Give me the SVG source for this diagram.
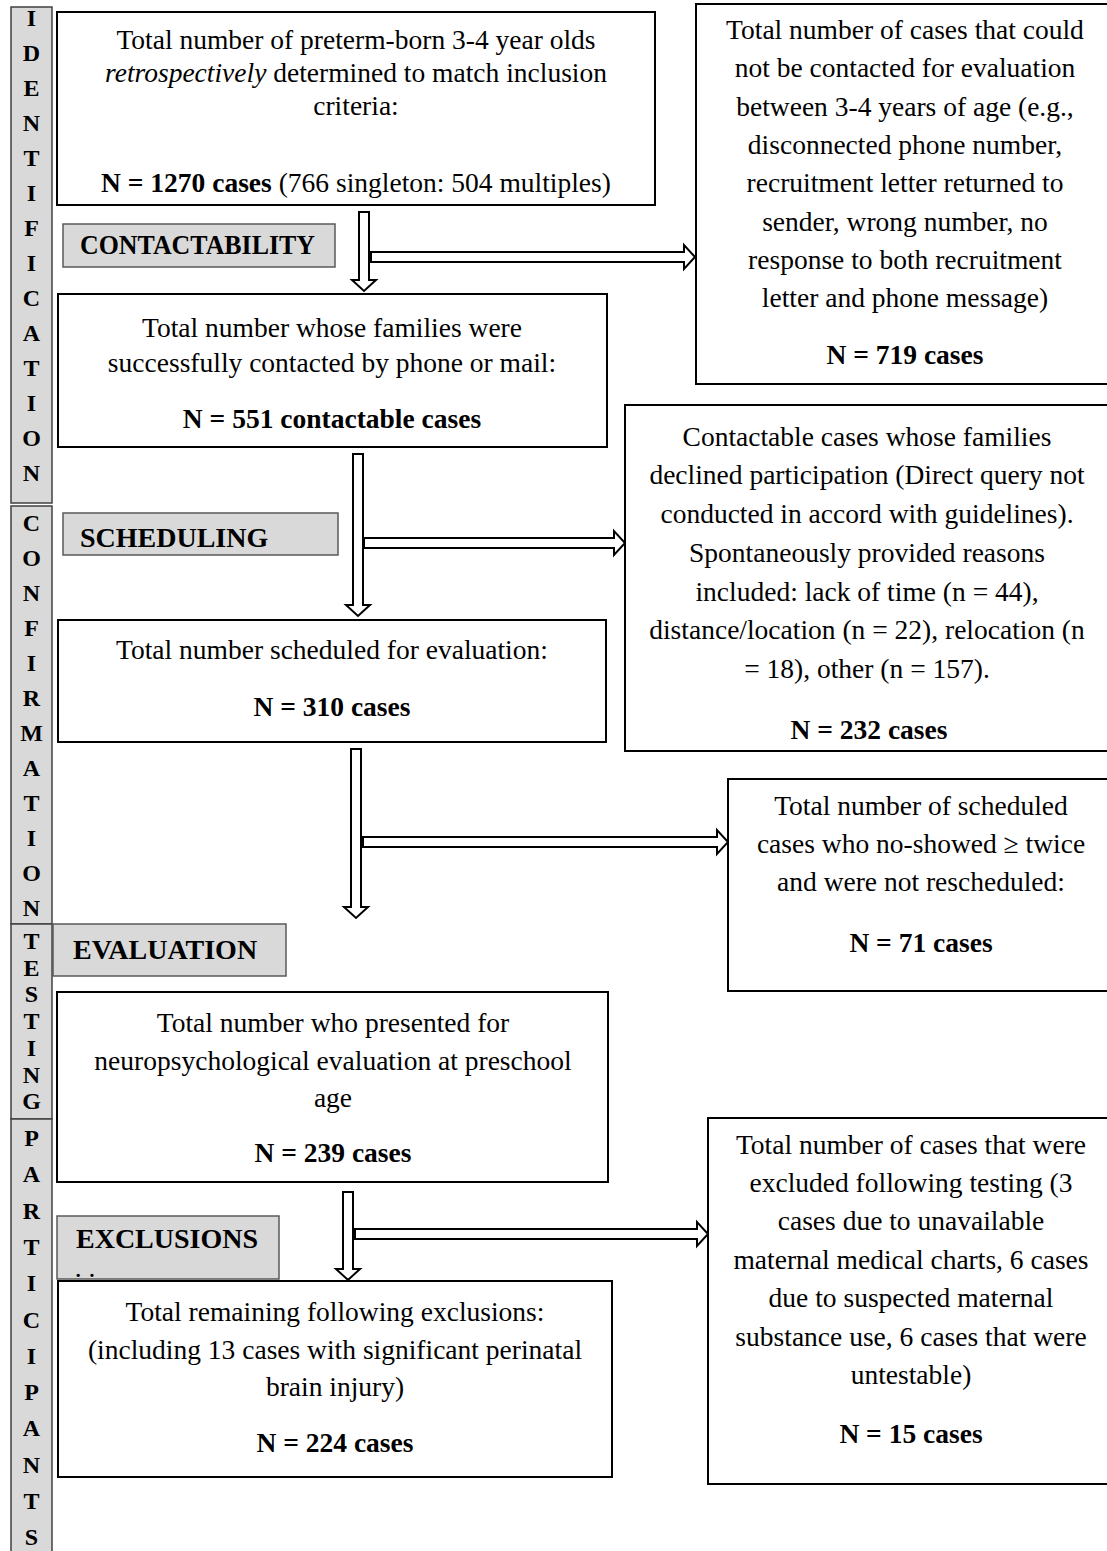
<svg xmlns="http://www.w3.org/2000/svg" width="1107" height="1551" viewBox="0 0 1107 1551">
<style>
.bg{fill:#fff}
.box{fill:#fff;stroke:#000;stroke-width:2}
.lbl{fill:#d9d9d9;stroke:#595959;stroke-width:1.5}
.strip{fill:#d9d9d9;stroke:#404040;stroke-width:1.5}
.t{font-family:"Liberation Serif","Times New Roman",serif;font-size:27.5px;text-anchor:middle;fill:#000}
.b{font-weight:bold}
.lt{font-family:"Liberation Serif","Times New Roman",serif;font-size:28px;font-weight:bold;fill:#000}
.s{font-family:"Liberation Serif","Times New Roman",serif;font-size:24px;font-weight:bold;text-anchor:middle;fill:#000}
.arr{fill:#fff;stroke:#000;stroke-width:2;stroke-linejoin:miter}
</style>
<rect class="bg" x="0" y="0" width="1107" height="1551"/>

<g id="strip">
<rect class="strip" x="11" y="7" width="41" height="496"/>
<rect class="strip" x="11" y="506" width="41" height="418"/>
<rect class="strip" x="11" y="924" width="41" height="195"/>
<rect class="strip" x="11" y="1119" width="41" height="440"/>
<text class="s" x="31.5"><tspan x="31.5" y="26">I</tspan><tspan x="31.5" y="61">D</tspan><tspan x="31.5" y="96">E</tspan><tspan x="31.5" y="131">N</tspan><tspan x="31.5" y="166">T</tspan><tspan x="31.5" y="201">I</tspan><tspan x="31.5" y="236">F</tspan><tspan x="31.5" y="271">I</tspan><tspan x="31.5" y="306">C</tspan><tspan x="31.5" y="341">A</tspan><tspan x="31.5" y="376">T</tspan><tspan x="31.5" y="411">I</tspan><tspan x="31.5" y="446">O</tspan><tspan x="31.5" y="481">N</tspan></text>
<text class="s" x="31.5"><tspan x="31.5" y="531">C</tspan><tspan x="31.5" y="566">O</tspan><tspan x="31.5" y="601">N</tspan><tspan x="31.5" y="636">F</tspan><tspan x="31.5" y="671">I</tspan><tspan x="31.5" y="706">R</tspan><tspan x="31.5" y="741">M</tspan><tspan x="31.5" y="776">A</tspan><tspan x="31.5" y="811">T</tspan><tspan x="31.5" y="846">I</tspan><tspan x="31.5" y="881">O</tspan><tspan x="31.5" y="916">N</tspan></text>
<text class="s" x="31.5"><tspan x="31.5" y="949">T</tspan><tspan x="31.5" y="975.7">E</tspan><tspan x="31.5" y="1002.4">S</tspan><tspan x="31.5" y="1029">T</tspan><tspan x="31.5" y="1055.8">I</tspan><tspan x="31.5" y="1082.5">N</tspan><tspan x="31.5" y="1109">G</tspan></text>
<text class="s" x="31.5"><tspan x="31.5" y="1146">P</tspan><tspan x="31.5" y="1182.3">A</tspan><tspan x="31.5" y="1218.6">R</tspan><tspan x="31.5" y="1254.9">T</tspan><tspan x="31.5" y="1291.2">I</tspan><tspan x="31.5" y="1327.5">C</tspan><tspan x="31.5" y="1363.8">I</tspan><tspan x="31.5" y="1400.1">P</tspan><tspan x="31.5" y="1436.4">A</tspan><tspan x="31.5" y="1472.7">N</tspan><tspan x="31.5" y="1509">T</tspan><tspan x="31.5" y="1545">S</tspan></text>
</g>

<g id="connectors">
<polygon class="arr" points="371,252 684,252 684,245 695,257 684,269 684,262 371,262"/>
<polygon class="arr" points="359,212 369,212 369,280 376,280 364,291 352,280 359,280"/>
<polygon class="arr" points="364,538 614,538 614,531 625,543 614,555 614,548 364,548"/>
<polygon class="arr" points="353,454 363,454 363,605 370,605 358,616 346,605 353,605"/>
<polygon class="arr" points="363,837 717,837 717,830 728,842 717,854 717,847 363,847"/>
<polygon class="arr" points="351,749 361,749 361,907 368,907 356,918 344,907 351,907"/>
<polygon class="arr" points="355,1229 697,1229 697,1222 708,1234 697,1246 697,1239 355,1239"/>
<polygon class="arr" points="343,1192 353,1192 353,1269 360,1269 348,1280 336,1269 343,1269"/>
</g>

<g id="lbl-contactability">
<rect class="lbl" x="63" y="224" width="272" height="43"/>
<text class="lt" x="80" y="254" textLength="235" lengthAdjust="spacingAndGlyphs">CONTACTABILITY</text>
</g>
<g id="lbl-scheduling">
<rect class="lbl" x="63" y="513" width="275" height="42"/>
<text class="lt" x="80" y="547">SCHEDULING</text>
</g>
<g id="lbl-evaluation">
<rect class="lbl" x="53" y="924" width="233" height="52"/>
<text class="lt" x="73" y="959">EVALUATION</text>
</g>
<g id="lbl-exclusions">
<rect class="lbl" x="57" y="1216" width="222" height="63"/>
<text class="lt" x="76" y="1248">EXCLUSIONS</text>
<text class="t" x="85" y="1277" font-size="10">. .</text>
</g>

<g id="box1">
<rect class="box" x="57" y="12" width="598" height="193"/>
<text class="t" x="356" y="49">Total number of preterm-born 3-4 year olds</text>
<text class="t" x="356" y="82"><tspan font-style="italic">retrospectively</tspan> determined to match inclusion</text>
<text class="t" x="356" y="115">criteria:</text>
<text class="t" x="356" y="192"><tspan class="b">N = 1270 cases</tspan> (766 singleton: 504 multiples)</text>
</g>

<g id="box-uncontactable">
<rect class="box" x="696" y="4" width="420" height="380"/>
<text class="t" x="905" y="39">Total number of cases that could</text>
<text class="t" x="905" y="77">not be contacted for evaluation</text>
<text class="t" x="905" y="116">between 3-4 years of age (e.g.,</text>
<text class="t" x="905" y="154">disconnected phone number,</text>
<text class="t" x="905" y="192">recruitment letter returned to</text>
<text class="t" x="905" y="231">sender, wrong number, no</text>
<text class="t" x="905" y="269">response to both recruitment</text>
<text class="t" x="905" y="307">letter and phone message)</text>
<text class="t b" x="905" y="364">N = 719 cases</text>
</g>

<g id="box2">
<rect class="box" x="58" y="294" width="549" height="153"/>
<text class="t" x="332" y="337">Total number whose families were</text>
<text class="t" x="332" y="372">successfully contacted by phone or mail:</text>
<text class="t b" x="332" y="428">N = 551 contactable cases</text>
</g>

<g id="box-declined">
<rect class="box" x="625" y="405" width="491" height="346"/>
<text class="t" x="867" y="446">Contactable cases whose families</text>
<text class="t" x="867" y="484">declined participation (Direct query not</text>
<text class="t" x="867" y="523">conducted in accord with guidelines).</text>
<text class="t" x="867" y="562">Spontaneously provided reasons</text>
<text class="t" x="867" y="601">included: lack of time (n = 44),</text>
<text class="t" x="867" y="639">distance/location (n = 22), relocation (n</text>
<text class="t" x="867" y="678">= 18), other (n = 157).</text>
<text class="t b" x="869" y="739">N = 232 cases</text>
</g>

<g id="box3">
<rect class="box" x="58" y="620" width="548" height="122"/>
<text class="t" x="332" y="659">Total number scheduled for evaluation:</text>
<text class="t b" x="332" y="716">N = 310 cases</text>
</g>

<g id="box-noshow">
<rect class="box" x="728" y="779" width="388" height="212"/>
<text class="t" x="921" y="815">Total number of scheduled</text>
<text class="t" x="921" y="853">cases who no-showed ≥ twice</text>
<text class="t" x="921" y="891">and were not rescheduled:</text>
<text class="t b" x="921" y="952">N = 71 cases</text>
</g>

<g id="box4">
<rect class="box" x="57" y="992" width="551" height="190"/>
<text class="t" x="333" y="1032">Total number who presented for</text>
<text class="t" x="333" y="1070">neuropsychological evaluation at preschool</text>
<text class="t" x="333" y="1107">age</text>
<text class="t b" x="333" y="1162">N = 239 cases</text>
</g>

<g id="box-excluded">
<rect class="box" x="708" y="1118" width="408" height="366"/>
<text class="t" x="911" y="1154">Total number of cases that were</text>
<text class="t" x="911" y="1192">excluded following testing (3</text>
<text class="t" x="911" y="1230">cases due to unavailable</text>
<text class="t" x="911" y="1269">maternal medical charts, 6 cases</text>
<text class="t" x="911" y="1307">due to suspected maternal</text>
<text class="t" x="911" y="1346">substance use, 6 cases that were</text>
<text class="t" x="911" y="1384">untestable)</text>
<text class="t b" x="911" y="1443">N = 15 cases</text>
</g>

<g id="box5">
<rect class="box" x="58" y="1281" width="554" height="196"/>
<text class="t" x="335" y="1321">Total remaining following exclusions:</text>
<text class="t" x="335" y="1359">(including 13 cases with significant perinatal</text>
<text class="t" x="335" y="1396">brain injury)</text>
<text class="t b" x="335" y="1452">N = 224 cases</text>
</g>
</svg>
